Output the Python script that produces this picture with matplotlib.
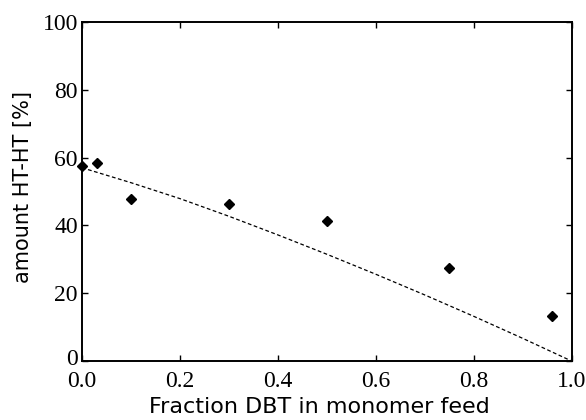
import matplotlib
matplotlib.use("Agg")
import matplotlib.pyplot as plt
import matplotlib.transforms as mtransforms

# measured HT-HT content vs. DBT fraction in the feed
feed_fraction = [0.0, 0.03, 0.10, 0.30, 0.50, 0.75, 0.96]
ht_ht_amount = [57.6, 58.3, 47.9, 46.4, 41.3, 27.6, 13.4]

# predicted curve (dashed)
model_fraction = [0.0, 0.1, 0.2, 0.3, 0.4, 0.5, 0.6, 0.7, 0.8, 0.9, 1.0]
model_amount = [57.0, 52.6, 47.9, 42.7, 37.2, 31.5, 25.6, 19.5, 13.2, 6.7, 0.0]

xticks = [0.0, 0.2, 0.4, 0.6, 0.8, 1.0]
yticks = [0, 20, 40, 60, 80, 100]

fig = plt.figure(figsize=(5.86, 4.2), dpi=100)
ax = fig.add_axes([0.140, 0.140, 0.836, 0.808])

ax.plot(model_fraction, model_amount, color='black', lw=0.9,
        linestyle=(0, (3, 2)))
ax.plot(feed_fraction, ht_ht_amount, linestyle='none', marker='D',
        markersize=4.8, color='black', clip_on=False, zorder=3)

ax.set_xlim(0, 1)
ax.set_ylim(0, 100)
ax.set_xticks(xticks)
ax.set_yticks(yticks)
ax.set_xticklabels([f"{t:.1f}" for t in xticks], family='Liberation Serif', fontsize=17)
ax.set_yticklabels([str(t) for t in yticks], family='Liberation Serif', fontsize=17)
ax.tick_params(direction='in', length=4, width=1.0, top=True, right=True)
ax.tick_params(axis='x', pad=7)
ax.tick_params(axis='y', pad=3)
for s in ax.spines.values():
    s.set_linewidth(1.4)

# nudge the lowest y label up so it clears the 0.0 below it
low = ax.get_yticklabels()[0]
low.set_transform(low.get_transform() +
                  mtransforms.ScaledTranslation(0, 3 / 72, fig.dpi_scale_trans))

ax.set_xlabel('Fraction DBT in monomer feed', family='DejaVu Sans', fontsize=16)
ax.set_ylabel('amount HT-HT [%]', family='DejaVu Sans', fontsize=15)
ax.xaxis.label.set_va('center')
ax.yaxis.label.set_va('center')
ax.xaxis.set_label_coords(0.485, -0.136)
ax.yaxis.set_label_coords(-0.120, 0.512)

fig.savefig('out.png', dpi=100)
